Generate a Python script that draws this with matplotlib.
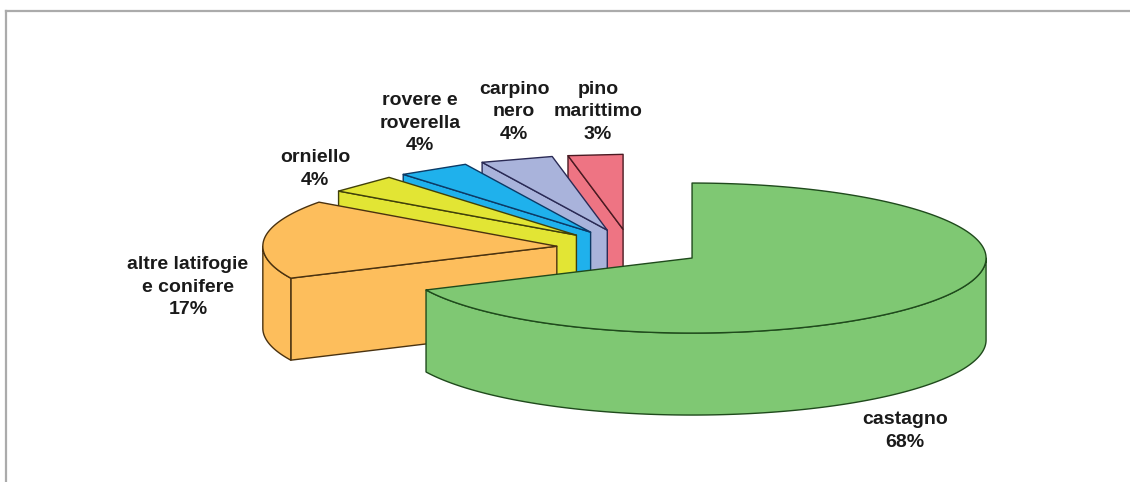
import numpy as np
from matplotlib import pyplot as plt
from matplotlib.patches import Polygon

plt.rcParams['font.family'] = ['Liberation Sans', 'DejaVu Sans']

labels = ["castagno\n68%", "altre latifogie\ne conifere\n17%", "orniello\n4%",
          "rovere e\nroverella\n4%", "carpino\nnero\n4%", "pino\nmarittimo\n3%"]
values = [68, 17, 4, 4, 4, 3]
colors = ["#7FC873", "#FDBE5C", "#E2E534", "#1FB1EC", "#A9B3DB", "#EE7483"]
edges = ["#1F4A1C", "#4A3210", "#40400A", "#0C3A66", "#2A2A55", "#4A1A22"]
label_pos = [(905, 431), (188, 287), (315, 169), (420, 123), (514, 112), (598, 112)]

# geometry of the pie, in pixels
CX, CY = 630, 248
RX, RY = 294, 75
DEPTH = 82
EXPLODE = 0.25


def point(cx, cy, t):
    # t is the angle in degrees, clockwise from the top
    t = np.radians(t)
    return cx + RX * np.sin(t), cy - RY * np.cos(t)


def arc(cx, cy, t0, t1):
    # the small slices have a straight outer edge in the original
    n = 2 if abs(t1 - t0) < 20 else int(abs(t1 - t0) * 2)
    return [point(cx, cy, t) for t in np.linspace(t0, t1, n)]


def draw_slice(ax, t0, t1, color, edge):
    mid = (t0 + t1) / 2.0
    ox, oy = point(0, 0, mid)
    cx, cy = CX + EXPLODE * ox, CY + EXPLODE * oy
    style = dict(facecolor=color, edgecolor=edge, linewidth=1.0, joinstyle="round")

    # start wall, seen only on the back left half
    if np.sin(np.radians(t0)) < 0:
        x, y = point(cx, cy, t0)
        ax.add_patch(Polygon([(cx, cy), (x, y), (x, y + DEPTH), (cx, cy + DEPTH)], **style))

    # outer wall, front half of the ellipse only
    a0, a1 = max(t0, 90), min(t1, 270)
    if a1 > a0:
        top = arc(cx, cy, a0, a1)
        bottom = [(x, y + DEPTH) for x, y in top[::-1]]
        ax.add_patch(Polygon(top + bottom, **style))

    # top face
    ax.add_patch(Polygon([(cx, cy)] + arc(cx, cy, t0, t1), **style))


fig = plt.figure(figsize=(11.3, 4.82), dpi=100)
ax = fig.add_axes([0, 0, 1, 1])
ax.set_xlim(0, 1130)
ax.set_ylim(482, 0)
ax.axis("off")

# frame of the picture
ax.plot([6, 6], [482, 11], color="#ABABAB", linewidth=1.6)
ax.plot([6, 1130], [11, 11], color="#ABABAB", linewidth=1.6)

angles = np.concatenate([[0], np.cumsum(values) * 360.0 / sum(values)])

# back slices first, the green one goes on top of them all
for i in range(len(values) - 1, -1, -1):
    draw_slice(ax, angles[i], angles[i + 1], colors[i], edges[i])

for text, (x, y) in zip(labels, label_pos):
    ax.text(x, y, text, ha="center", va="center", fontsize=14, fontweight="bold",
            color="#1A1A1A", linespacing=1.42)

fig.savefig("out.png", dpi=100)
